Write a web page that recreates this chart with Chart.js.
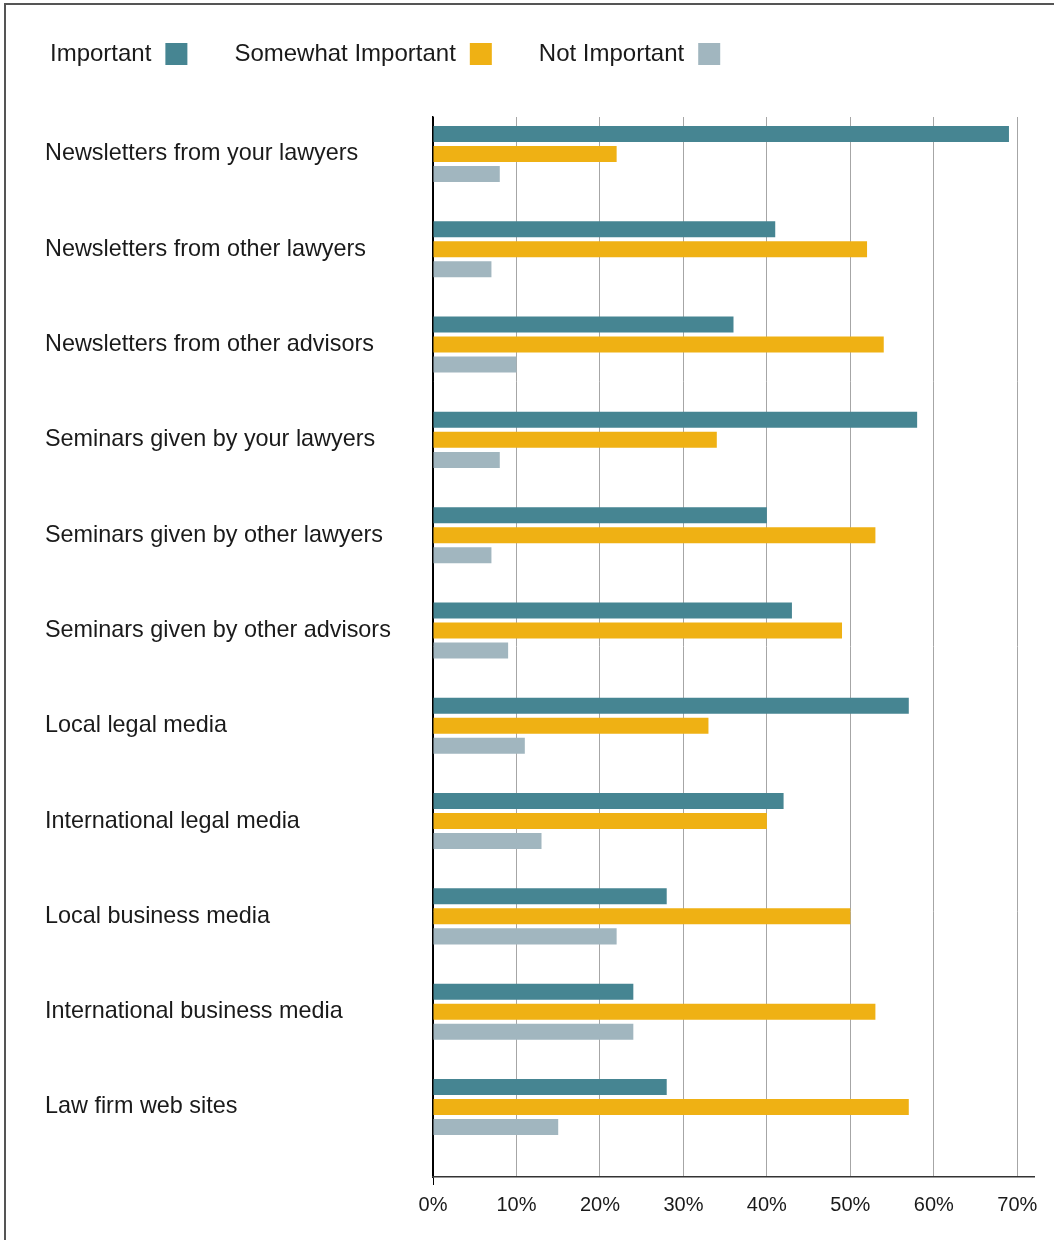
<!DOCTYPE html>
<html>
<head>
<meta charset="utf-8">
<title>Importance of information sources</title>
<script src="https://cdn.jsdelivr.net/npm/chart.js@4.4.1/dist/chart.umd.min.js"></script>
<style>
    html, body { margin: 0; padding: 0; background: #fff; }
    #wrap { position: relative; width: 1054px; height: 1240px; }
</style>
</head>
<body>
<div id="wrap"><canvas id="chart" width="1054" height="1240"></canvas></div>
<script>
// Survey categories, top to bottom
var categories = [
    "Newsletters from your lawyers",
    "Newsletters from other lawyers",
    "Newsletters from other advisors",
    "Seminars given by your lawyers",
    "Seminars given by other lawyers",
    "Seminars given by other advisors",
    "Local legal media",
    "International legal media",
    "Local business media",
    "International business media",
    "Law firm web sites"
];

// Share of respondents (%) per answer
var important    = [69, 41, 36, 58, 40, 43, 57, 42, 28, 24, 28];
var somewhat     = [22, 52, 54, 34, 53, 49, 33, 40, 50, 53, 57];
var notImportant = [8, 7, 10, 8, 7, 9, 11, 13, 22, 24, 15];

var seriesNames = ["Important", "Somewhat Important", "Not Important"];
var xTicks = [0, 10, 20, 30, 40, 50, 60, 70];

var FONT = '"Liberation Sans", Arial, Helvetica, sans-serif';
var INK = "#1a1a1a";
var colors = ["#468592", "#efb114", "#a1b6bf"];

// bar data on a linear index axis so the category bands can sit off-centre
function toPoints(values) {
    return values.map(function (v, i) { return { x: v, y: i }; });
}

// grey frame on the top and left edge of the picture
var framePlugin = {
    id: "frame",
    beforeDraw: function (chart) {
        var ctx = chart.ctx;
        ctx.save();
        ctx.strokeStyle = "#555";
        ctx.lineWidth = 2;
        ctx.strokeRect(5, 4, 3000, 3000);
        ctx.restore();
    }
};

// legend with the colour box after the text
var legendPlugin = {
    id: "textFirstLegend",
    afterDraw: function (chart) {
        var ctx = chart.ctx;
        var x = 50, y = 54;
        ctx.save();
        ctx.font = "24px " + FONT;
        ctx.textBaseline = "middle";
        ctx.textAlign = "left";
        chart.data.datasets.forEach(function (ds) {
            ctx.fillStyle = INK;
            ctx.fillText(ds.label, x, y);
            x += ctx.measureText(ds.label).width + 14;
            ctx.fillStyle = ds.backgroundColor;
            ctx.fillRect(x, y - 11, 22, 22);
            x += 22 + 47;
        });
        ctx.restore();
    }
};

var datasets = [important, somewhat, notImportant].map(function (vals, i) {
    return {
        label: seriesNames[i],
        data: toPoints(vals),
        backgroundColor: colors[i],
        borderWidth: 0,
        barPercentage: 0.8,
        categoryPercentage: 0.63
    };
});

new Chart(document.getElementById("chart"), {
    type: "bar",
    data: { datasets: datasets },
    options: {
        indexAxis: "y",
        responsive: false,
        animation: false,
        layout: { padding: { left: 45, top: 117, right: 20, bottom: 23 } },
        plugins: {
            legend: { display: false },
            tooltip: { enabled: false }
        },
        scales: {
            y: {
                type: "linear",
                reverse: true,
                offset: false,
                min: -0.388,
                max: 10.735,
                afterBuildTicks: function (scale) {
                    scale.ticks = categories.map(function (c, i) { return { value: i }; });
                },
                afterFit: function (scale) { scale.width = 388; },
                grid: { display: false },
                border: { display: true, color: "#000", width: 1.5 },
                ticks: {
                    autoSkip: false,
                    crossAlign: "far",
                    color: INK,
                    font: { family: FONT, size: 23.4 },
                    callback: function (v) { return categories[v]; }
                }
            },
            x: {
                type: "linear",
                min: 0,
                max: 72,
                afterBuildTicks: function (scale) {
                    scale.ticks = xTicks.map(function (v) { return { value: v }; });
                },
                afterFit: function (scale) { scale.height = 40; },
                grid: {
                    color: function (c) { return c.index === 0 ? "#000" : "#a6a6a6"; },
                    tickColor: function (c) { return c.index === 0 ? "#000" : "rgba(0,0,0,0)"; },
                    tickLength: 8,
                    lineWidth: 1
                },
                border: { color: "#333", width: 1.5 },
                ticks: {
                    maxRotation: 0,
                    padding: 8,
                    color: INK,
                    font: { family: FONT, size: 20 },
                    callback: function (v) { return v + "%"; }
                }
            }
        }
    },
    plugins: [framePlugin, legendPlugin]
});
</script>
</body>
</html>
